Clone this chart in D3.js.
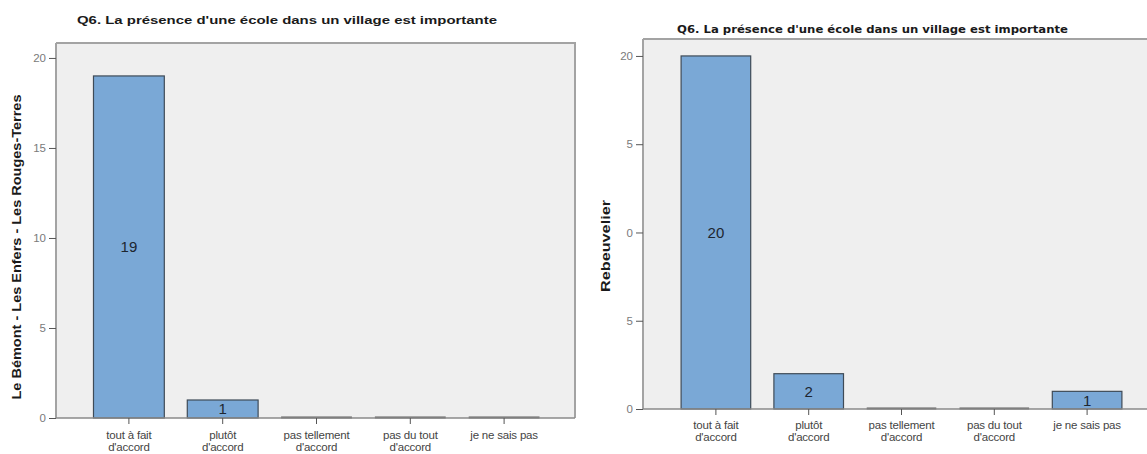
<!DOCTYPE html>
<html>
<head>
<meta charset="utf-8">
<script src="https://cdn.jsdelivr.net/npm/d3@7"></script>
<style>
  html, body { margin: 0; padding: 0; background: #fff; }
  svg { display: block; }
</style>
</head>
<body>
<svg id="chart" width="1147" height="454"></svg>
<script>
// Response categories (two-line axis labels)
const categories = [
  ["tout à fait", "d'accord"],
  ["plutôt", "d'accord"],
  ["pas tellement", "d'accord"],
  ["pas du tout", "d'accord"],
  ["je ne sais pas"]
];

const titleText = "Q6. La présence d'une école dans un village est importante";

// Counts per village group
const countsBemont = [19, 1, 0, 0, 0];
const countsRebeuvelier = [20, 2, 0, 0, 1];

// Y-axis tick values and their printed labels
const tickValues = [0, 5, 10, 15, 20];
const tickLabelsBemont = ["0", "5", "10", "15", "20"];
const tickLabelsRebeuvelier = ["0", "5", "0", "5", "20"];

const axisTitleBemont = "Le Bémont - Les Enfers - Les Rouges-Terres";
const axisTitleRebeuvelier = "Rebeuvelier";

const svg = d3.select("#chart");

function drawPanel(p) {
  const g = svg.append("g");

  const y = d3.scaleLinear().domain([0, p.yMax]).range([p.bottom, p.top]);
  const x = d3.scaleBand()
    .domain(d3.range(p.values.length))
    .range([p.bandStart, p.bandEnd])
    .paddingInner(p.pad).paddingOuter(p.pad / 2);

  // plot background
  g.append("rect")
    .attr("x", p.left).attr("y", p.top)
    .attr("width", p.right - p.left).attr("height", p.bottom - p.top)
    .attr("fill", "#efefef");

  // frame (top, right)
  g.append("path")
    .attr("d", `M${p.left},${p.top}H${p.right}V${p.bottom}`)
    .attr("fill", "none").attr("stroke", "#a3a3a3").attr("stroke-width", 2);

  // bars
  p.values.forEach((v, i) => {
    const x0 = x(i), w = x.bandwidth();
    if (v > 0) {
      g.append("rect")
        .attr("x", x0).attr("y", y(v))
        .attr("width", w).attr("height", y(0) - y(v))
        .attr("fill", "#7aa8d6").attr("stroke", "#3f4b57").attr("stroke-width", 1.2);
    } else {
      g.append("line")
        .attr("x1", x0).attr("x2", x0 + w)
        .attr("y1", y(0) - 0.5).attr("y2", y(0) - 0.5)
        .attr("stroke", "#5f5f5f").attr("stroke-width", 2);
    }
  });

  // y axis
  const yAxis = d3.axisLeft(y)
    .tickValues(tickValues)
    .tickFormat((d, i) => p.tickLabels[i])
    .tickSize(7).tickPadding(3);
  const ya = g.append("g").attr("transform", `translate(${p.left},0)`).call(yAxis);
  ya.select(".domain").attr("stroke", "#a3a3a3").attr("stroke-width", 2)
    .attr("d", `M0,${p.top}V${p.bottom}`);
  ya.selectAll(".tick line").attr("stroke", "#555").attr("stroke-width", 1);
  ya.selectAll(".tick text")
    .attr("fill", "#7a7a7a")
    .style("font-family", "'Liberation Sans', Arial, sans-serif")
    .style("font-size", "11.5px");

  // x axis
  const xAxis = d3.axisBottom(x).tickSize(6).tickFormat("");
  const xa = g.append("g").attr("transform", `translate(0,${p.bottom})`).call(xAxis);
  xa.select(".domain").attr("stroke", "#8a8a8a").attr("stroke-width", 1.6)
    .attr("d", `M${p.left},0H${p.right}`);
  xa.selectAll(".tick line").attr("stroke", "#555").attr("stroke-width", 1);

  // category labels
  categories.forEach((lines, i) => {
    const cx = x(i) + x.bandwidth() / 2;
    const t = g.append("text")
      .attr("x", cx).attr("y", p.catY)
      .attr("text-anchor", "middle")
      .attr("fill", "#444")
      .style("font-family", "'Liberation Sans', Arial, sans-serif")
      .style("font-size", p.catSize + "px")
      .style("letter-spacing", "-0.2px");
    lines.forEach((s, k) => {
      t.append("tspan").attr("x", cx).attr("dy", k === 0 ? 0 : p.catLine).text(s);
    });
  });

  // value labels inside bars
  p.values.forEach((v, i) => {
    if (v <= 0) return;
    g.append("text")
      .attr("x", x(i) + x.bandwidth() / 2)
      .attr("y", (y(v) + y(0)) / 2)
      .attr("dy", "0.36em")
      .attr("text-anchor", "middle")
      .attr("fill", "#1d2630")
      .style("font-family", "'Liberation Sans', Arial, sans-serif")
      .style("font-size", "15px")
      .text(v);
  });

  // chart title
  g.append("text")
    .attr("x", p.titleX).attr("y", p.titleY)
    .attr("text-anchor", "start")
    .attr("fill", "#1a1a1a")
    .style("font-family", p.titleFont)
    .style("font-weight", "bold")
    .style("font-size", p.titleSize + "px")
    .attr("textLength", p.titleLen)
    .attr("lengthAdjust", "spacingAndGlyphs")
    .text(titleText);

  // y axis title
  g.append("text")
    .attr("transform", `translate(${p.axisTitleX},${p.axisTitleY}) rotate(-90)`)
    .attr("text-anchor", "middle")
    .attr("fill", "#1a1a1a")
    .style("font-family", "'Liberation Sans', Arial, sans-serif")
    .style("font-weight", "bold")
    .style("font-size", p.axisTitleSize + "px")
    .attr("textLength", p.axisTitleLen)
    .attr("lengthAdjust", "spacingAndGlyphs")
    .text(p.axisTitle);
}

drawPanel({
  values: countsBemont,
  tickLabels: tickLabelsBemont,
  axisTitle: axisTitleBemont,
  left: 56, right: 575, top: 43, bottom: 418,
  yMax: 20.83,
  bandStart: 82, bandEnd: 551, pad: 0.245,
  catY: 439, catSize: 11.5, catLine: 12,
  titleX: 77, titleY: 24, titleSize: 11, titleLen: 420,
  titleFont: "'Liberation Sans', Arial, sans-serif",
  axisTitleX: 21, axisTitleY: 247, axisTitleSize: 12, axisTitleLen: 305
});

drawPanel({
  values: countsRebeuvelier,
  tickLabels: tickLabelsRebeuvelier,
  axisTitle: axisTitleRebeuvelier,
  left: 643, right: 1149, top: 39, bottom: 409,
  yMax: 20.96,
  bandStart: 669.5, bandEnd: 1133.5, pad: 0.25,
  catY: 429, catSize: 11.5, catLine: 12,
  titleX: 677, titleY: 33, titleSize: 10, titleLen: 391,
  titleFont: "'DejaVu Sans', Verdana, sans-serif",
  axisTitleX: 610, axisTitleY: 246, axisTitleSize: 12, axisTitleLen: 92
});
</script>
</body>
</html>
